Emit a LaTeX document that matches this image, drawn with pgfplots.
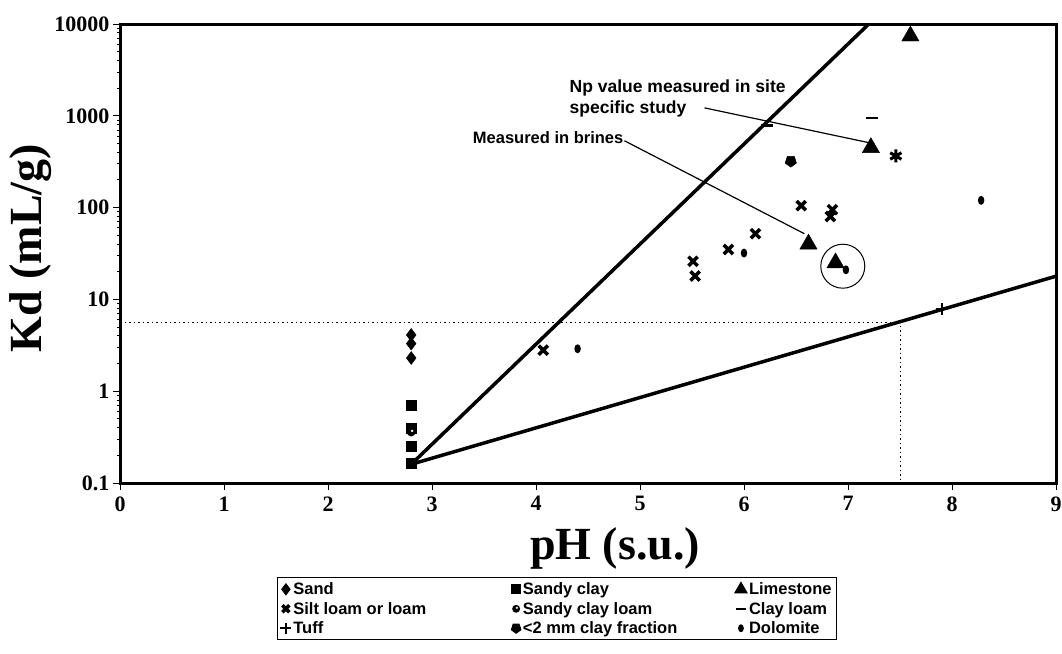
\documentclass[border=0pt]{standalone}
\usepackage{pgfplots}
\pgfplotsset{compat=1.18}
\usepackage{fontspec}
\setmainfont{Liberation Serif}
\newfontfamily\arialfont{Liberation Sans}
\usetikzlibrary{plotmarks}

\pgfdeclareplotmark{dolo}{%
  \pgfpathellipse{\pgfpointorigin}{\pgfpoint{0.72\pgfplotmarksize}{0pt}}{\pgfpoint{0pt}{\pgfplotmarksize}}%
  \pgfusepathqfill}
\pgfdeclareplotmark{scl}{%
  \pgfpathcircle{\pgfpointorigin}{\pgfplotmarksize}\pgfusepathqfill
  \pgfsetfillcolor{white}%
  \pgfpathcircle{\pgfpoint{0.2\pgfplotmarksize}{0.25\pgfplotmarksize}}{0.3\pgfplotmarksize}\pgfusepathqfill}

\pgfplotsset{
  lm/.style={only marks,
    legend image code/.code={\draw[mark repeat=2,mark phase=2,##1,mark size=#1] plot coordinates {(0pt,0pt)(8pt,0pt)(16pt,0pt)};}},
}

\begin{document}
\begin{tikzpicture}
\useasboundingbox (0,0) rectangle (1062pt,-653pt);
\begin{axis}[
  at={(120pt,-483pt)}, anchor=south west,
  scale only axis, width=936pt, height=459pt,
  ymode=log, xmin=0, xmax=9, ymin=0.1, ymax=10000,
  xtick={0,1,2,3,4,5,6,7,8,9},
  xticklabels={0,1,2,3,4,5,6,7,8,9},
  ytick={0.1,1,10,100,1000,10000},
  yticklabels={0.1,1,10,100,1000,10000},
  ticklabel style={font=\bfseries\fontsize{22}{24}\selectfont},
  xticklabel style={yshift=-3pt},
  xtick pos=bottom, ytick pos=left,
  tick align=outside, major tick length=7pt,
  tick style={line width=1pt, black},
  axis line style={line width=3pt},
  xlabel={pH (s.u.)},
  ylabel={Kd (mL/g)},
  xlabel style={at={(axis description cs:0.529,-0.1416)}, anchor=center, font=\bfseries\fontsize{46}{50}\selectfont},
  ylabel style={at={(axis description cs:-0.096,0.512)}, anchor=center, font=\bfseries\fontsize{46}{50}\selectfont},
  legend columns=3,
  legend cell align=left,
  legend style={at={(axis description cs:0.1676,-0.205)}, anchor=north west,
    draw=black, line width=1pt, inner xsep=3pt, inner ysep=3pt, row sep=2pt,
    font=\arialfont\bfseries\fontsize{16.5}{19}\selectfont},
]
% guide lines
\addplot[black, line width=1pt, dash pattern=on 1.5pt off 3pt, forget plot] coordinates {(0,5.6) (7.5,5.6) (7.5,0.1)};
\addplot[black, line width=3.5pt, forget plot] coordinates {(2.8,0.16) (7.2,10000)};
\addplot[black, line width=3.5pt, forget plot] coordinates {(2.8,0.16) (9,17.9)};
% annotation leader lines
\addplot[black, line width=1.2pt, forget plot] coordinates {(5.62,1220) (7.2,510)};
\addplot[black, line width=1.2pt, forget plot] coordinates {(4.85,535) (6.58,52)};

% Sand
\addplot[lm=5.5, black, mark=diamond*, mark size=6.5] coordinates {(2.8,4.1) (2.8,3.3) (2.8,2.3)};
\addlegendentry{\makebox[216pt][l]{Sand}}
% Sandy clay
\addplot[lm=4.5, black, mark=square*, mark size=5] coordinates {(2.8,0.7) (2.8,0.4) (2.8,0.25) (2.8,0.165)};
\addlegendentry{\makebox[210pt][l]{Sandy clay}}
% Limestone
\addplot[lm=7, black, mark=triangle*, mark size=10] coordinates {(7.6,7400) (7.22,450) (6.62,40) (6.88,25)};
\addlegendentry{Limestone}
% Silt loam or loam
\addplot[lm=5, black, mark=x, mark size=6.5, mark options={line width=3.5pt}] coordinates {(4.07,2.8) (5.51,26) (5.53,18) (5.85,35) (6.11,52) (6.55,105) (6.85,95) (6.83,80)};
\addlegendentry{\makebox[216pt][l]{Silt loam or loam}}
% Sandy clay loam
\addplot[lm=4, black, mark=scl, mark size=4.5] coordinates {(2.8,0.36) (7.28,40)};
\addlegendentry{\makebox[210pt][l]{Sandy clay loam}}
% Clay loam
\addplot[lm=5, black, mark=-, mark size=6, mark options={line width=2.5pt}] coordinates {(6.22,780) (7.23,950)};
\addlegendentry{Clay loam}
% Tuff
\addplot[lm=5.5, black, mark=+, mark size=6, mark options={line width=2pt}] coordinates {(7.9,7.8)};
\addlegendentry{\makebox[216pt][l]{Tuff}}
% <2 mm clay fraction
\addplot[lm=5, black, mark=pentagon*, mark size=6, mark options={rotate=180}] coordinates {(6.45,320)};
\addlegendentry{\makebox[210pt][l]{<2 mm clay fraction}}
% Dolomite
\addplot[lm=4, black, mark=dolo, mark size=4.5] coordinates {(4.4,2.9) (6.0,32) (6.98,21) (8.28,120)};
\addlegendentry{Dolomite}

% Np site-specific value (star) and circled pair
\addplot[only marks, black, mark=asterisk, mark size=6.5, mark options={line width=3pt}, forget plot] coordinates {(7.46,365)};
\addplot[only marks, black, mark=o, mark size=22, mark options={line width=1pt}, forget plot] coordinates {(6.95,23)};

\node[anchor=north west, align=left, font=\arialfont\bfseries\fontsize{17.5}{21}\selectfont] at (axis cs:4.29,2700) {Np value measured in site\\specific study};
\node[anchor=west, font=\arialfont\bfseries\fontsize{16.5}{20}\selectfont] at (axis cs:3.36,575) {Measured in brines};
\end{axis}
\end{tikzpicture}
\end{document}
